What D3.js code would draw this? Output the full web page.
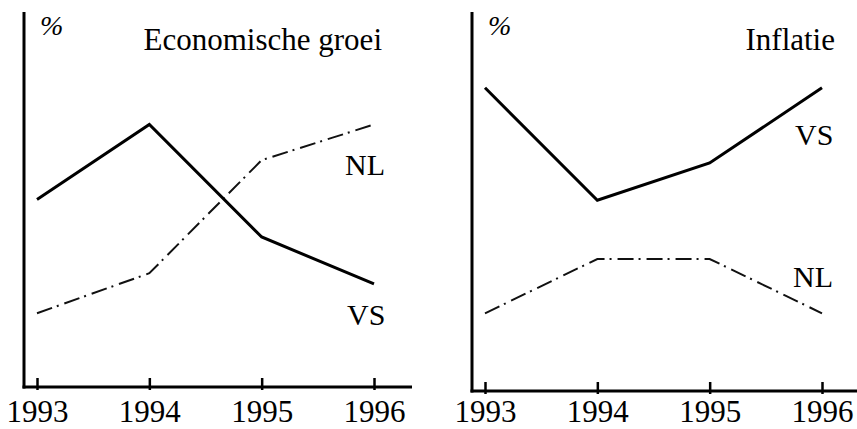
<!DOCTYPE html>
<html>
<head>
<meta charset="utf-8">
<script src="https://cdn.jsdelivr.net/npm/d3@7"></script>
<style>
  html, body { margin: 0; padding: 0; background: #fff; }
  svg { display: block; }
  text { font-family: "Liberation Serif", "Times New Roman", serif; fill: #000; }
</style>
</head>
<body>
<svg id="chart" width="857" height="429"></svg>
<script>
// ---- data ----
const years = [1993, 1994, 1995, 1996];
const yearLabels = ["1993", "1994", "1995", "1996"];
const groeiVS = [3.0, 4.2, 2.4, 1.65];
const groeiNL = [1.18, 1.82, 3.63, 4.2];
const inflatieVS = [4.8, 3.02, 3.61, 4.8];
const inflatieNL = [1.23, 2.09, 2.09, 1.23];
const panelTitles = ["Economische groei", "Inflatie"];
const seriesNames = ["VS", "NL"];

const svg = d3.select("#chart");

const panels = [
  { title: panelTitles[0], vs: groeiVS, nl: groeiNL, ox: 0, axisY: 387, axisEnd: 412 },
  { title: panelTitles[1], vs: inflatieVS, nl: inflatieNL, ox: 448, axisY: 391, axisEnd: 409 }
];

panels.forEach((p, i) => {
  const g = svg.append("g").attr("transform", `translate(${p.ox},0)`);
  const x = d3.scalePoint().domain(years).range([37, 374]);
  const y = d3.scaleLinear().domain([0, 6]).range([p.axisY, 12]);

  // y axis line
  g.append("line").attr("x1", 24).attr("x2", 24).attr("y1", 12).attr("y2", p.axisY + 1.5)
    .attr("stroke", "#000").attr("stroke-width", 3);
  // x axis baseline
  g.append("line").attr("x1", 22.5).attr("x2", p.axisEnd).attr("y1", p.axisY).attr("y2", p.axisY)
    .attr("stroke", "#000").attr("stroke-width", 3);

  // ticks + labels
  const ax = d3.axisBottom(x).tickSize(12).tickPadding(i === 0 ? 10 : 6)
    .tickFormat((d, k) => yearLabels[k]);
  const axg = g.append("g").attr("transform", `translate(0,${p.axisY - 9})`).call(ax);
  axg.select(".domain").remove();
  axg.selectAll(".tick line").attr("stroke", "#000").attr("stroke-width", 2.5);
  axg.selectAll(".tick text").attr("font-size", 31).attr("font-family", "Liberation Serif").attr("fill", "#000");

  // titles
  g.append("text").attr("x", 40).attr("y", 35).attr("font-size", 28).attr("font-style", "italic").text("%");
  g.append("text").attr("x", i === 0 ? 382 : 387).attr("y", 50).attr("text-anchor", "end")
    .attr("font-size", 31).text(p.title);

  const line = d3.line().x((d, k) => x(years[k])).y(d => y(d));

  g.append("path").datum(p.nl).attr("d", line).attr("fill", "none")
    .attr("stroke", "#111").attr("stroke-width", 2).attr("stroke-dasharray", "16,5,2,6");
  g.append("path").datum(p.vs).attr("d", line).attr("fill", "none")
    .attr("stroke", "#000").attr("stroke-width", 3).attr("stroke-linejoin", "miter");
});

// series labels
const lab = [
  { t: seriesNames[1], x: 345, y: 175 },
  { t: seriesNames[0], x: 347, y: 325 },
  { t: seriesNames[0], x: 795, y: 145 },
  { t: seriesNames[1], x: 793, y: 287 }
];
svg.selectAll("text.lab").data(lab).enter().append("text").attr("class", "lab")
  .attr("x", d => d.x).attr("y", d => d.y).attr("font-size", 30).text(d => d.t);
</script>
</body>
</html>
